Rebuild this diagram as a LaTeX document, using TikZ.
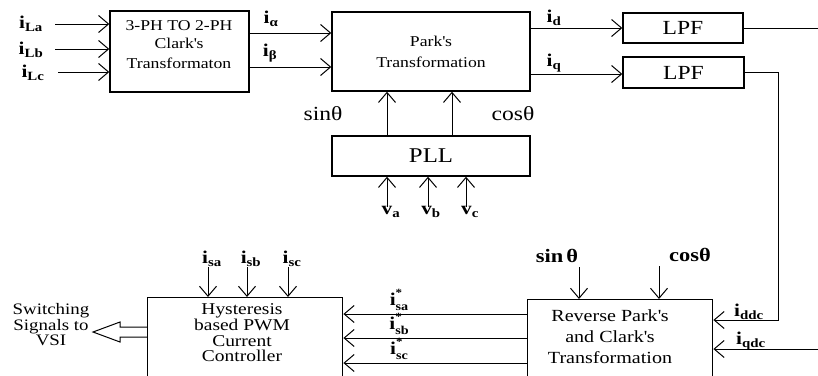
\documentclass[tikz,border=0pt]{standalone}
\usepackage{fontspec}
\setmainfont{Liberation Serif}[FakeStretch=1.18]
\usetikzlibrary{arrows.meta}
\newcommand\ilab[1]{\textbf{i}\textsubscript{\textbf{#1}}}
\newcommand\islab[1]{\textbf{i}\rlap{\raisebox{0.5em}{\fontsize{11}{11}\selectfont\bfseries *}}\raisebox{-0.3em}{\fontsize{12}{12}\selectfont\bfseries #1}}
\newcommand\vlab[1]{\textbf{v}\textsubscript{\textbf{#1}}}
\newcommand\apos{\textquotesingle}
\begin{document}
\begin{tikzpicture}[x=1pt,y=-1pt,
  line width=1pt,
  >={Straight Barb[length=10pt,width=17pt,line width=1pt]},
  box/.style={draw, line width=1.4pt, inner sep=0pt, align=center},
  btxt/.style={font=\fontsize{15}{20}\selectfont, align=center, inner sep=0pt},
  lab/.style={font=\fontsize{18}{18}\selectfont, inner sep=0pt},
  big/.style={font=\fontsize{20}{22}\selectfont},
  trig/.style={font=\fontsize{20}{20}\selectfont, inner sep=0pt},
  trigb/.style={font=\bfseries\fontsize{19}{20}\selectfont, inner sep=0pt}]
\useasboundingbox (0,0) rectangle (818,375);
\clip (0,0) rectangle (818,375);
% boxes
\node[box, minimum width=139pt, minimum height=81pt] (clark) at (179.5,51.5) {};
\node[btxt] (clarkt) at (179,45) {3-PH TO 2-PH\\[-2pt]Clark\apos s\\Transformaton};
\node[box, minimum width=198pt, minimum height=79pt, font=\fontsize{15}{21}\selectfont] (park) at (431,51.5) {Park\apos s\\Transformation};
\node[box, minimum width=120pt, minimum height=30pt, big] (lpf1) at (683,28) {LPF};
\node[box, minimum width=121pt, minimum height=31pt, big] (lpf2) at (683.5,72.5) {LPF};
\node[box, minimum width=198pt, minimum height=40pt, font=\fontsize{21}{22}\selectfont] (pll) at (431,156) {PLL};
\node[box, minimum width=195pt, minimum height=110pt, anchor=north west] (hyst) at (147,297) {};
\node[btxt, font=\fontsize{16.5}{15.6}\selectfont] (hystt) at (242,333) {Hysteresis\\based PWM\\Current\\Controller};
\node[box, minimum width=185pt, minimum height=110pt, anchor=north west] (rev) at (527,299) {};
\node[btxt, font=\fontsize{17}{21}\selectfont] (revt) at (610,337) {Reverse Park\apos s\\and Clark\apos s\\Transformation};
% input labels to Clark
\node[lab] (ila) at (31,24) {\ilab{La}};
\node[lab] (ilb) at (31,50) {\ilab{Lb}};
\node[lab] (ilc) at (33,73) {\ilab{Lc}};
\coordinate (sa) at (55,24);
\coordinate (sb) at (55,49);
\coordinate (sc) at (58,72);
\draw[->] (sa) -- (sa -| clark.west);
\draw[->] (sb) -- (sb -| clark.west);
\draw[->] (sc) -- (sc -| clark.west);
% Clark to Park
\coordinate (al) at (249,33);
\coordinate (be) at (249,67);
\draw[->] (al) -- (al -| park.west);
\draw[->] (be) -- (be -| park.west);
\node[lab] (lal) at (271,19) {\textbf{i}\textsubscript{\textbf{α}}};
\node[lab] (lbe) at (270,53) {\textbf{i}\textsubscript{\textbf{β}}};
% Park to LPF
\coordinate (dq1) at (530,28);
\coordinate (dq2) at (530,74);
\draw[->] (dq1) -- (dq1 -| lpf1.west);
\draw[->] (dq2) -- (dq2 -| lpf2.west);
\node[lab] (lid) at (554,18) {\ilab{d}};
\node[lab] (liq) at (554,63) {\ilab{q}};
\coordinate (out1) at (818,28);
\draw (lpf1.east) -- (lpf1.east -| out1);
\coordinate (c1) at (778,320);
\draw[->] (lpf2.east) -| (c1) -- (c1 -| rev.east);
\coordinate (in2) at (818,349);
\draw[->] (in2) -- (in2 -| rev.east);
\node[lab] (lidd) at (749,312) {\ilab{ddc}};
\node[lab] (liqd) at (751,341) {\ilab{qdc}};
% PLL to Park
\coordinate (ps) at (387,110);
\coordinate (pc) at (452,110);
\draw[->] (ps |- pll.north) -- (ps |- park.south);
\draw[->] (pc |- pll.north) -- (pc |- park.south);
\node[trig] (lsin) at (323,114) {sinθ};
\node[trig] (lcos) at (513,114) {cosθ};
% PLL inputs
\node[lab, anchor=north] (lva) at (391,206) {\vlab{a}};
\node[lab, anchor=north] (lvb) at (431,206) {\vlab{b}};
\node[lab, anchor=north] (lvc) at (470,206) {\vlab{c}};
\coordinate (va) at (387,207);
\coordinate (vb) at (428,207);
\coordinate (vc) at (466,207);
\draw[->] (va) -- (va |- pll.south);
\draw[->] (vb) -- (vb |- pll.south);
\draw[->] (vc) -- (vc |- pll.south);
% hysteresis inputs
\node[lab] (lsa) at (212,259) {\ilab{sa}};
\node[lab] (lsb) at (251,259) {\ilab{sb}};
\node[lab] (lsc) at (292,259) {\ilab{sc}};
\coordinate (ha) at (208,267);
\coordinate (hb) at (247,267);
\coordinate (hc) at (288,267);
\draw[->] (ha) -- (ha |- hyst.north);
\draw[->] (hb) -- (hb |- hyst.north);
\draw[->] (hc) -- (hc |- hyst.north);
% reverse inputs sin/cos
\node[trigb] (lsin2) at (557,256) {sin\,θ};
\node[trigb] (lcos2) at (690,255) {cosθ};
\coordinate (rs) at (579,267);
\coordinate (rc) at (659,266);
\draw[->] (rs) -- (rs |- rev.north);
\draw[->] (rc) -- (rc |- rev.north);
% reverse to hysteresis
\coordinate (r1) at (527,314);
\coordinate (r2) at (527,338);
\coordinate (r3) at (527,363);
\draw[->] (r1) -- (r1 -| hyst.east);
\draw[->] (r2) -- (r2 -| hyst.east);
\draw[->] (r3) -- (r3 -| hyst.east);
\node[lab] (ls1) at (399,300) {\islab{sa}};
\node[lab] (ls2) at (399,324) {\islab{sb}};
\node[lab] (ls3) at (399,349) {\islab{sc}};
% hollow output arrow
\coordinate (h1) at (147,327);
\coordinate (h2) at (147,337);
\draw (h1) -- (120,327) -- (120,322) -- (93,332) -- (120,342) -- (120,337) -- (h2);
\node[btxt, font=\fontsize{16}{15.5}\selectfont] (sw) at (51,325) {Switching\\Signals to\\VSI};
\end{tikzpicture}
\end{document}
